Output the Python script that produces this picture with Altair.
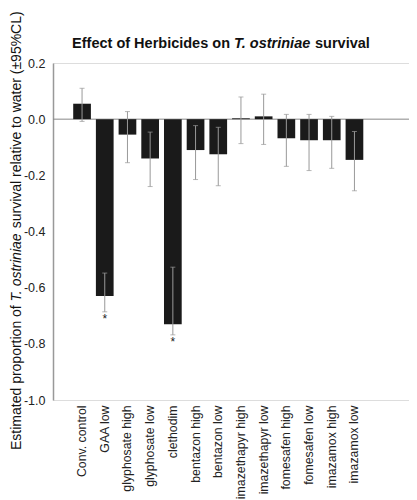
import altair as alt
import pandas as pd

categories = ["Conv. control", "GAA low", "glyphosate high", "glyphosate  low",
              "clethodim", "bentazon high", "bentazon low", "imazethapyr high",
              "imazethapyr low", "fomesafen high", "fomesafen low",
              "imazamox high", "imazamox low"]
estimates = [0.055, -0.63, -0.055, -0.14, -0.73, -0.11, -0.125, 0.003, 0.01,
             -0.068, -0.075, -0.075, -0.145]
ci_upper = [0.11, -0.548, 0.027, -0.046, -0.527, -0.023, -0.029, 0.079, 0.089,
            0.017, 0.017, 0.01, -0.044]
ci_lower = [-0.008, -0.686, -0.155, -0.24, -0.768, -0.215, -0.237, -0.087,
            -0.09, -0.168, -0.183, -0.175, -0.255]
significance = ["", "*", "", "", "*", "", "", "", "", "", "", "", ""]

df = pd.DataFrame({
    "cat": categories,
    "est": estimates,
    "hi": ci_upper,
    "lo": ci_lower,
    "sig": significance,
})

FONT = "Liberation Sans"
W, H = 356, 337

xscale = alt.Scale(paddingInner=0.22, paddingOuter=0.89, range=[0, 330.5])
xenc = alt.X("cat:N", sort=categories, title=None, scale=xscale,
             axis=alt.Axis(labelAngle=270, labelAlign="right", labelBaseline="middle",
                           labelFontSize=12.3, labelFont=FONT, labelColor="#222",
                           labelPadding=5, domain=False, ticks=False, labelLimit=200))
yscale = alt.Scale(domain=[-1.0, 0.2], nice=False, zero=False)

base = alt.Chart(df)

bars = base.mark_bar(color="#1a1a1a").encode(
    x=xenc,
    y=alt.Y("est:Q", scale=yscale, title=None,
            axis=alt.Axis(values=[-1.0, -0.8, -0.6, -0.4, -0.2, 0.0, 0.2],
                          labelExpr="replace(format(datum.value, '.1f'), '\u2212', '-')",
                          labelFontSize=12.5, labelFont=FONT, labelColor="#222",
                          labelPadding=8, ticks=False, grid=False,
                          domainColor="#999", domainWidth=1.5)),
)

zero = alt.Chart(pd.DataFrame({"z": [0.0]})).mark_rule(color="#888", strokeWidth=1).encode(
    y=alt.Y("z:Q", scale=yscale)
)

err = base.mark_rule(color="#999", strokeWidth=1).encode(
    x=alt.X("cat:N", sort=categories),
    y=alt.Y("lo:Q", scale=yscale),
    y2="hi:Q",
)
cap_hi = base.mark_tick(color="#999", thickness=1, size=5).encode(
    x=alt.X("cat:N", sort=categories),
    y=alt.Y("hi:Q", scale=yscale),
)
cap_lo = base.mark_tick(color="#999", thickness=1, size=5).encode(
    x=alt.X("cat:N", sort=categories),
    y=alt.Y("lo:Q", scale=yscale),
)
stars = base.mark_text(font=FONT, fontSize=12, color="#222", dy=7,
                       baseline="middle").encode(
    x=alt.X("cat:N", sort=categories),
    y=alt.Y("lo:Q", scale=yscale),
    text="sig:N",
)

def label(text, x, y, align, angle=0, italic=False, bold=False, size=14.5):
    return alt.Chart(pd.DataFrame({"t": [text]})).mark_text(
        font=FONT, fontSize=size, align=align, baseline="alphabetic", angle=angle,
        fontStyle="italic" if italic else "normal",
        fontWeight="bold" if bold else "normal", color="#111",
    ).encode(text="t:N", x=alt.value(x), y=alt.value(y))

title_parts = [
    label("Effect of Herbicides on", 177, -15, "right", bold=True),
    label("T. ostriniae", 181, -15, "left", bold=True, italic=True),
    label("survival", 262, -15, "left", bold=True),
]
ytitle_parts = [
    label("Estimated proportion of", -32, 387, "left", angle=270, size=14),
    label("T. ostriniae", -32, 238.4, "left", angle=270, italic=True, size=14),
    label("survival relative to water (\u00b195%CL)", -32, 165.3, "left", angle=270, size=14),
]

chart = alt.layer(zero, bars, err, cap_hi, cap_lo, stars, *title_parts, *ytitle_parts).properties(
    width=W, height=H,
    padding={"left": 45, "top": 55, "right": 0, "bottom": 100},
    autosize=alt.AutoSizeParams(type="none"),
).configure_view(stroke=None).configure(background="white")

chart.save("out.html", embed_options={"renderer": "svg", "actions": False})
